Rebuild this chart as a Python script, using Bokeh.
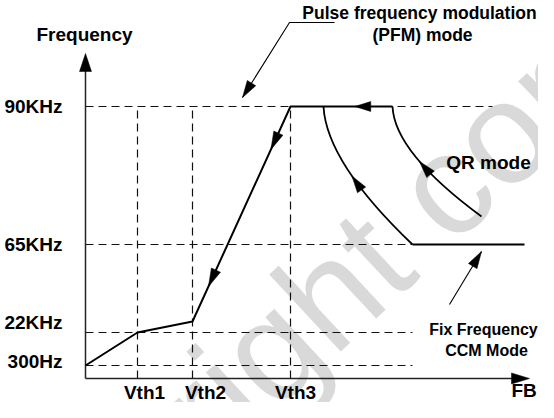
import numpy as np
from bokeh.plotting import figure
from bokeh.models import Range1d
from bokeh.core.properties import value
from bokeh.embed import file_html
from bokeh.resources import INLINE

# ---------------- data (schematic units, origin = axis corner) ----------------
level_labels = ["300Hz", "22KHz", "65KHz", "90KHz"]
level_y = [13, 46, 134, 272]
level_label_y = [17, 56, 134, 272]
level_dash_end = [327, 327, 327, 407]

vth_labels = ["Vth1", "Vth2", "Vth3"]
vth_x = [52, 107, 205]
vth_label_x = [59, 120, 210]
vth_top = 272

# light-load trajectory (PFM / burst) and 90KHz clamp
path_x = [0, 52, 107, 205, 307]
path_y = [13, 46, 57, 272, 272]
# fixed-frequency CCM segment
ccm_x = [327, 439]
ccm_y = [134, 134]
# QR mode curves (quadratic: start, control, end)
qr_x0 = [238, 307]
qr_y0 = [272, 272]
qr_cx = [241, 309]
qr_cy = [216, 226]
qr_x1 = [327, 396]
qr_y1 = [134, 162]
qr_arrow_t = [0.55, 0.54]

# axes extents
y_axis_top = 325
x_axis_end = 444

# annotation leaders
pfm_leader_x = [249, 204, 157]
pfm_leader_y = [356, 356, 281]
ccm_leader_x = [364, 396]
ccm_leader_y = [74, 127]

ink = "#000000"
FONT = value("Liberation Sans")

p = figure(width=538, height=402, output_backend="svg", toolbar_location=None,
           x_range=Range1d(-85, 453), y_range=Range1d(-24, 378),
           x_axis_type=None, y_axis_type=None, min_border=0,
           background_fill_color="white", border_fill_color="white")
p.grid.visible = False
p.outline_line_color = None

# watermark
p.text(x=[-128], y=[-262], text=["copyright confidential"], angle=43, angle_units="deg",
       text_font=FONT, text_font_size=value("145px"), text_color="#d9d9d9",
       text_align="left", text_baseline="alphabetic")


def head(tx, ty, dx, dy, L=17, W=10):
    n = np.hypot(dx, dy)
    ux, uy = dx / n, dy / n
    bx, by = tx - L * ux, ty - L * uy
    px, py = -uy, ux
    return [tx, bx + W / 2 * px, bx - W / 2 * px], [ty, by + W / 2 * py, by - W / 2 * py]


heads_x, heads_y = [], []

# dashed reference lines
p.multi_line(xs=[[0, e] for e in level_dash_end], ys=[[y, y] for y in level_y],
             line_color="#111111", line_width=1.2, line_dash="8 5")
p.multi_line(xs=[[x, x] for x in vth_x], ys=[[0, vth_top] for _ in vth_x],
             line_color="#111111", line_width=1.2, line_dash="8 5")

# axes
p.line([0, 0], [0, y_axis_top - 10], line_color="#222222", line_width=1.5)
p.line([0, x_axis_end - 10], [0, 0], line_color="#222222", line_width=1.5)
hx, hy = head(0, y_axis_top, 0, 1, L=18, W=12); heads_x.append(hx); heads_y.append(hy)
hx, hy = head(x_axis_end, 0, 1, 0, L=18, W=11); heads_x.append(hx); heads_y.append(hy)

# solid trajectories
p.line(path_x, path_y, line_color=ink, line_width=2)
p.line(ccm_x, ccm_y, line_color=ink, line_width=2)
p.quadratic(x0=qr_x0, y0=qr_y0, x1=qr_x1, y1=qr_y1, cx=qr_cx, cy=qr_cy,
            line_color=ink, line_width=1.8)

# arrow on clamp line (pointing left)
t = 0.37
tx = path_x[4] + t * (path_x[3] - path_x[4])
hx, hy = head(tx, path_y[4], -1, 0, L=16, W=10); heads_x.append(hx); heads_y.append(hy)
# arrows on the steep segment (pointing down)
for t in [0.2, 0.837]:
    dx, dy = path_x[2] - path_x[3], path_y[2] - path_y[3]
    hx, hy = head(path_x[3] + t * dx, path_y[3] + t * dy, dx, dy, L=18, W=10)
    heads_x.append(hx); heads_y.append(hy)
# arrows on QR curves (pointing back up)
for i in range(2):
    t = qr_arrow_t[i]
    P0 = np.array([qr_x0[i], qr_y0[i]]); C = np.array([qr_cx[i], qr_cy[i]]); P2 = np.array([qr_x1[i], qr_y1[i]])
    B = (1 - t) ** 2 * P0 + 2 * t * (1 - t) * C + t ** 2 * P2
    D = 2 * (1 - t) * (C - P0) + 2 * t * (P2 - C)
    hx, hy = head(B[0], B[1], -D[0], -D[1], L=17, W=10); heads_x.append(hx); heads_y.append(hy)

# leaders
p.line(pfm_leader_x, pfm_leader_y, line_color=ink, line_width=1.1)
hx, hy = head(pfm_leader_x[2], pfm_leader_y[2], pfm_leader_x[2] - pfm_leader_x[1],
              pfm_leader_y[2] - pfm_leader_y[1], L=17, W=10)
heads_x.append(hx); heads_y.append(hy)
p.line(ccm_leader_x, ccm_leader_y, line_color=ink, line_width=1.1)
hx, hy = head(ccm_leader_x[1], ccm_leader_y[1], ccm_leader_x[1] - ccm_leader_x[0],
              ccm_leader_y[1] - ccm_leader_y[0], L=17, W=10)
heads_x.append(hx); heads_y.append(hy)

p.patches(heads_x, heads_y, fill_color=ink, line_color=ink, line_width=0.5)

# ---------------- texts ----------------
def txt(x, y, s, size, align="center"):
    p.text(x=x, y=y, text=s, text_font=FONT, text_font_style="bold",
           text_font_size=value(size), text_color=ink, text_align=align,
           text_baseline="middle")

txt([-23] * 4, level_label_y, level_labels, "19px", align="right")
txt(vth_label_x, [-14] * 3, vth_labels, "19px")
txt([-49], [344], ["Frequency"], "19px", align="left")
txt([426], [-12], ["FB"], "19px", align="left")
txt([334], [366], ["Pulse frequency modulation"], "17.5px")
txt([337], [344], ["(PFM) mode"], "17.5px")
txt([403], [216], ["QR mode"], "19px")
txt([398], [49], ["Fix Frequency"], "16px")
txt([401], [28], ["CCM Mode"], "16px")

open("out.html", "w").write(file_html(p, INLINE))
